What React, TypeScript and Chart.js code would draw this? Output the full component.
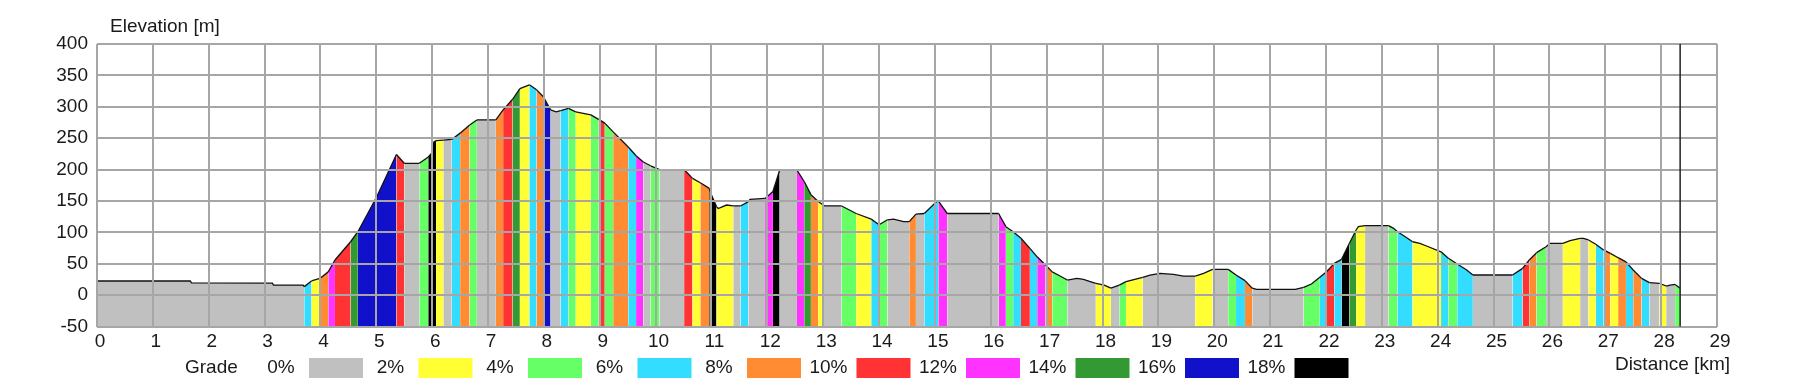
import React, { useEffect, useRef } from "react";
import { Chart, registerables } from "chart.js";

Chart.register(...registerables);

// Distance along the route (km)
const dist = [
  0.0, 1.67, 1.69, 3.14, 3.16, 3.69, 3.71, 3.84, 3.99, 4.14, 4.26, 4.54, 4.67, 5.01, 5.36, 5.5, 5.77, 5.93, 5.99, 6.03,
  6.07, 6.2, 6.35, 6.5, 6.67, 6.8, 7.14, 7.27, 7.44, 7.57, 7.74, 7.87, 7.99, 8.12, 8.22, 8.3, 8.44, 8.57, 8.84, 8.98,
  9.09, 9.24, 9.51, 9.65, 9.78, 9.91, 10.07, 10.51, 10.66, 10.8, 10.96, 11.0, 11.09, 11.12, 11.27, 11.39, 11.52, 11.66,
  11.69, 11.96, 12.1, 12.22, 12.53, 12.66, 12.78, 12.91, 13.0, 13.03, 13.33, 13.59, 13.86, 14.0, 14.15, 14.26, 14.44,
  14.54, 14.66, 14.81, 15.03, 15.06, 15.22, 16.14, 16.27, 16.4, 16.54, 16.7, 16.83, 16.98, 17.1, 17.24, 17.37, 17.54,
  17.66, 17.78, 17.88, 18.03, 18.15, 18.3, 18.42, 18.72, 18.85, 19.03, 19.27, 19.45, 19.66, 19.81, 19.97, 20.25, 20.39,
  20.55, 20.68, 20.76, 21.45, 21.6, 21.74, 21.89, 22.01, 22.15, 22.28, 22.42, 22.54, 22.58, 22.7, 23.12, 23.21, 23.28,
  23.42, 23.55, 23.68, 23.8, 24.06, 24.19, 24.35, 24.52, 24.63, 25.34, 25.52, 25.64, 25.77, 25.94, 26.01, 26.24, 26.37,
  26.55, 26.61, 26.7, 26.83, 26.97, 27.09, 27.23, 27.37, 27.5, 27.65, 27.79, 27.97, 28.09, 28.16, 28.25, 28.34,
];

// Elevation (m)
const elev = [
  22.5, 22.5, 19.5, 19, 16, 16, 13.5, 22.5, 26.5, 37, 56, 85, 101, 157, 224, 210, 210, 220, 226, 244,
  246, 247, 248, 258, 271, 279, 279, 295, 312, 329, 335, 327, 316, 295, 292, 294, 297.5, 292, 287, 280,
  274, 260, 236, 222, 212, 206, 200, 200, 186, 179, 170, 159.5, 141, 138, 143.5, 142, 142, 149,
  152.5, 154, 165, 199, 199, 181, 160, 149, 143.5, 142, 142, 130, 121, 112, 120, 121, 117,
  117, 129, 130, 149, 150, 130, 130, 109, 101, 90.5, 74.5, 61, 48, 37, 30.5, 24, 26.7,
  25, 21.5, 18.7, 16, 11, 16, 21.5, 28.3, 32, 34.7, 33, 30.4, 30.4, 34.7, 41, 41, 32,
  23, 11, 9.2, 9.2, 12.4, 17.7, 28.3, 37.3, 50.6, 57, 82.5, 103.7, 109, 110.6, 110.6, 106.3, 101,
  93, 85, 82.5, 78.2, 69, 58.6, 49.5, 40, 32, 32, 42.6, 56, 67.6, 77, 82.5, 82.5, 86.7,
  90.4, 90.4, 87.8, 81, 72, 66.5, 59.6, 53, 40, 26.7, 19.8, 18.7, 14.5, 16, 17, 11,
];

// Grade class of the segment starting at each point (0 = 0-2%, 1 = 2-4%, ... 9 = 18%+)
const grade = [
  0, 0, 0, 0, 0, 0, 3, 1, 4, 6, 5, 7, 8, 8, 5, 0, 2, 9, 9, 9,
  1, 0, 3, 4, 2, 0, 4, 5, 7, 1, 3, 4, 8, 0, 0, 3, 2, 1, 2, 5,
  2, 4, 3, 6, 0, 2, 0, 5, 1, 4, 9, 9, 1, 1, 1, 0, 3, 0,
  0, 6, 9, 0, 6, 7, 4, 1, 0, 0, 2, 1, 3, 2, 0, 0, 0,
  4, 0, 3, 3, 6, 0, 6, 2, 3, 5, 3, 6, 4, 2, 2, 0, 0,
  0, 0, 1, 1, 0, 2, 1, 0, 0, 0, 0, 0, 1, 1, 0, 2, 3,
  4, 0, 0, 0, 2, 2, 3, 5, 3, 9, 7, 1, 1, 0, 2, 2, 3,
  3, 1, 1, 1, 3, 2, 3, 3, 0, 3, 5, 4, 2, 0, 0, 1, 1,
  0, 0, 1, 3, 4, 1, 4, 3, 4, 3, 0, 1, 0, 0, 2, 2,
];

const gradeColors = [
  "#c0c0c0", "#ffff33", "#66ff66", "#33ddff", "#ff8c33",
  "#ff3333", "#ff33ff", "#339933", "#1111cc", "#000000",
];
const gradeLabels = ["0%", "2%", "4%", "6%", "8%", "10%", "12%", "14%", "16%", "18%"];
const endKm = 28.34;

const FONT = "'Liberation Sans', Arial, sans-serif";

export default function App() {
  const ref = useRef<HTMLCanvasElement>(null);

  useEffect(() => {
    const overlay = {
      id: "overlay",
      afterDraw(chart: any) {
        const ctx = chart.ctx as CanvasRenderingContext2D;
        const { top, bottom } = chart.chartArea;
        const xs = chart.scales.x;
        ctx.save();
        // end marker
        const ex = xs.getPixelForValue(endKm);
        ctx.strokeStyle = "#222222";
        ctx.lineWidth = 1.5;
        ctx.beginPath();
        ctx.moveTo(ex, top);
        ctx.lineTo(ex, bottom);
        ctx.stroke();

        ctx.fillStyle = "#1a1a1a";
        ctx.font = `19px ${FONT}`;
        ctx.textBaseline = "middle";
        ctx.textAlign = "left";
        ctx.fillText("Elevation [m]", 110, 27);
        ctx.textAlign = "right";
        ctx.fillText("Distance [km]", 1730, 365);

        // legend
        ctx.textAlign = "left";
        ctx.fillText("Grade", 185, 368);
        for (let i = 0; i < gradeLabels.length; i++) {
          const bx = 309 + 109.5 * i;
          ctx.fillStyle = gradeColors[i];
          ctx.fillRect(bx, 358, 54, 20);
          ctx.fillStyle = "#1a1a1a";
          ctx.textAlign = "center";
          ctx.fillText(gradeLabels[i], bx - 28, 368);
        }
        ctx.restore();
      },
    };

    const gridOpts = { color: "#a6a6a6", lineWidth: 2, drawTicks: false, z: 1 };
    const tickFont = { family: FONT, size: 19 };

    const chart = new Chart(ref.current as HTMLCanvasElement, {
      type: "line",
      data: {
        datasets: [
          {
            data: dist.map((d, i) => ({ x: d, y: elev[i] })),
            borderColor: "#111111",
            borderWidth: 1.3,
            pointRadius: 0,
            tension: 0,
            fill: "start",
            backgroundColor: gradeColors[0],
            segment: {
              backgroundColor: (c: any) => gradeColors[grade[c.p0DataIndex]],
            },
          } as any,
        ],
      },
      options: {
        responsive: false,
        animation: false,
        devicePixelRatio: 1,
        layout: { padding: { left: 0, right: 86, top: 44, bottom: 0 } },
        plugins: { legend: { display: false }, tooltip: { enabled: false } },
        scales: {
          x: {
            type: "linear",
            min: 0,
            max: 29,
            afterFit: (s: any) => {
              s.height = 62.5;
            },
            ticks: {
              stepSize: 1,
              padding: 4,
              labelOffset: 3,
              color: "#1a1a1a",
              font: tickFont,
              autoSkip: false,
              maxRotation: 0,
            },
            grid: gridOpts,
            border: { display: false },
          },
          y: {
            type: "linear",
            min: -50,
            max: 400,
            afterFit: (s: any) => {
              s.width = 97;
            },
            ticks: {
              stepSize: 50,
              padding: 9,
              color: "#1a1a1a",
              font: tickFont,
            },
            grid: gridOpts,
            border: { display: false },
          },
        },
      } as any,
      plugins: [overlay],
    });
    return () => chart.destroy();
  }, []);

  return (
    <div style={{ position: "absolute", left: 0, top: 0 }}>
      <canvas ref={ref} width={1803} height={389} />
    </div>
  );
}
